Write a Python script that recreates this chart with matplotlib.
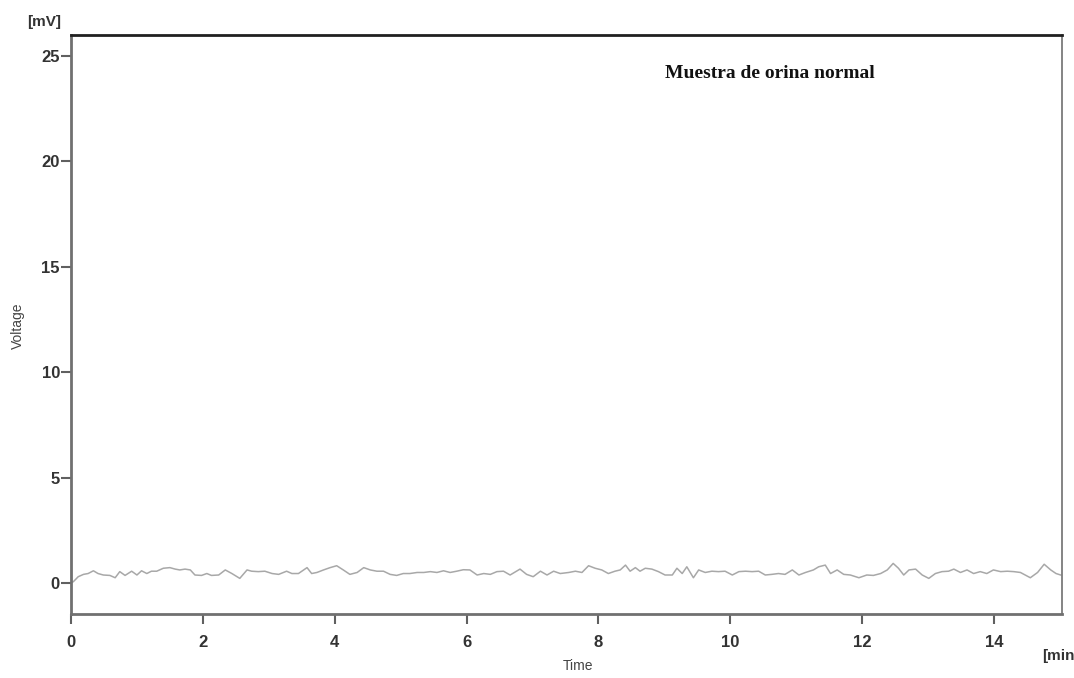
import numpy as np
import matplotlib
matplotlib.use("Agg")
from matplotlib import pyplot as plt

# trace (minutes, mV)
time_min = [
    0.0, 0.035, 0.11, 0.19, 0.26, 0.34, 0.41, 0.49, 0.59, 0.67, 0.74, 0.82, 0.92,
    1.00, 1.07, 1.15, 1.22, 1.30, 1.40, 1.50, 1.58, 1.65, 1.73, 1.81, 1.88, 1.98,
    2.06, 2.13, 2.24, 2.34, 2.44, 2.56, 2.67, 2.74, 2.84, 2.94, 3.05, 3.15, 3.27,
    3.35, 3.45, 3.58, 3.65, 3.73, 3.83, 3.93, 4.03, 4.13, 4.23, 4.34, 4.44, 4.54,
    4.64, 4.74, 4.84, 4.94, 5.04, 5.14, 5.25, 5.35, 5.45, 5.55, 5.65, 5.75, 5.85,
    5.95, 6.05, 6.16, 6.26, 6.36, 6.46, 6.56, 6.66, 6.81, 6.91, 7.01, 7.12, 7.22,
    7.32, 7.42, 7.55, 7.65, 7.75, 7.85, 7.95, 8.05, 8.15, 8.25, 8.33, 8.41, 8.48,
    8.56, 8.63, 8.71, 8.81, 8.91, 9.01, 9.12, 9.19, 9.27, 9.34, 9.44, 9.52, 9.62,
    9.72, 9.82, 9.92, 10.03, 10.13, 10.23, 10.33, 10.43, 10.53, 10.63, 10.73,
    10.83, 10.94, 11.04, 11.14, 11.26, 11.34, 11.44, 11.52, 11.62, 11.72, 11.82,
    11.95, 12.07, 12.17, 12.28, 12.38, 12.47, 12.55, 12.63, 12.71, 12.81, 12.91,
    13.01, 13.11, 13.21, 13.31, 13.39, 13.49, 13.59, 13.69, 13.79, 13.89, 13.99,
    14.10, 14.20, 14.30, 14.40, 14.55, 14.66, 14.76, 14.86, 14.94, 15.01,
]
voltage_mv = [
    0.02, 0.06, 0.30, 0.41, 0.45, 0.58, 0.45, 0.38, 0.36, 0.25, 0.54, 0.36, 0.56,
    0.38, 0.58, 0.45, 0.56, 0.56, 0.70, 0.73, 0.66, 0.62, 0.66, 0.62, 0.38, 0.36,
    0.45, 0.36, 0.38, 0.62, 0.45, 0.22, 0.62, 0.56, 0.54, 0.56, 0.45, 0.41, 0.56,
    0.45, 0.45, 0.73, 0.45, 0.50, 0.62, 0.73, 0.82, 0.62, 0.41, 0.50, 0.73, 0.62,
    0.56, 0.56, 0.41, 0.36, 0.45, 0.45, 0.50, 0.50, 0.54, 0.50, 0.58, 0.50, 0.56,
    0.63, 0.62, 0.38, 0.45, 0.41, 0.54, 0.56, 0.38, 0.66, 0.41, 0.30, 0.56, 0.38,
    0.56, 0.45, 0.50, 0.56, 0.50, 0.82, 0.70, 0.62, 0.45, 0.56, 0.62, 0.85, 0.56,
    0.73, 0.56, 0.70, 0.66, 0.54, 0.38, 0.38, 0.70, 0.45, 0.77, 0.25, 0.62, 0.50,
    0.56, 0.54, 0.56, 0.38, 0.54, 0.56, 0.54, 0.56, 0.38, 0.41, 0.45,
    0.41, 0.62, 0.38, 0.50, 0.62, 0.77, 0.85, 0.45, 0.62, 0.41, 0.38,
    0.25, 0.38, 0.36, 0.45, 0.62, 0.93, 0.70, 0.38, 0.62, 0.66, 0.38,
    0.22, 0.45, 0.54, 0.56, 0.66, 0.50, 0.62, 0.45, 0.54, 0.45, 0.62,
    0.54, 0.56, 0.54, 0.50, 0.25, 0.50, 0.89, 0.62, 0.45, 0.38,
]

x_ticks = [0, 2, 4, 6, 8, 10, 12, 14]
y_ticks = [0, 5, 10, 15, 20, 25]

fig = plt.figure(figsize=(10.74, 6.78), dpi=100)
ax = fig.add_axes([0.0661, 0.0944, 0.9227, 0.854])

ax.plot(time_min, voltage_mv, color="#a8a8a8", linewidth=1.1)

ax.set_xlim(0, 15.03)
ax.set_ylim(-1.47, 26.0)
ax.set_xticks(x_ticks)
ax.set_yticks(y_ticks)
ax.set_xticklabels([str(t) for t in x_ticks])
ax.set_yticklabels([str(t) for t in y_ticks])

for lab in ax.get_xticklabels() + ax.get_yticklabels():
    lab.set_fontfamily("Liberation Sans")
    lab.set_fontsize(12)
    lab.set_fontweight("bold")
    lab.set_color("#333333")

ax.tick_params(axis="both", direction="out", length=7, width=1.5, color="#606060")
ax.tick_params(axis="x", pad=8)
ax.tick_params(axis="y", pad=1)

for side in ["left", "bottom", "right"]:
    ax.spines[side].set_color("#707070")
ax.spines["left"].set_linewidth(2.0)
ax.spines["bottom"].set_linewidth(2.0)
ax.spines["right"].set_linewidth(1.2)
ax.spines["top"].set_color("#202020")
ax.spines["top"].set_linewidth(2.0)

fig.text(0.017, 0.52, "Voltage", rotation=90, ha="center", va="center",
         fontsize=10, family="Liberation Sans", color="#444444")
fig.text(0.538, 0.018, "Time", ha="center", va="center",
         fontsize=10, family="Liberation Sans", color="#444444")
fig.text(0.041, 0.968, "[mV]", ha="center", va="center",
         fontsize=11, family="Liberation Sans", weight="bold", color="#333333")
fig.text(0.985, 0.033, "[min", ha="center", va="center",
         fontsize=11, family="Liberation Sans", weight="bold", color="#333333")

ax.text(0.705, 0.934, "Muestra de orina normal", transform=ax.transAxes,
        ha="center", va="center", fontsize=14, family="Liberation Serif",
        weight="bold", color="#111111")

fig.savefig("out.png", dpi=100)
